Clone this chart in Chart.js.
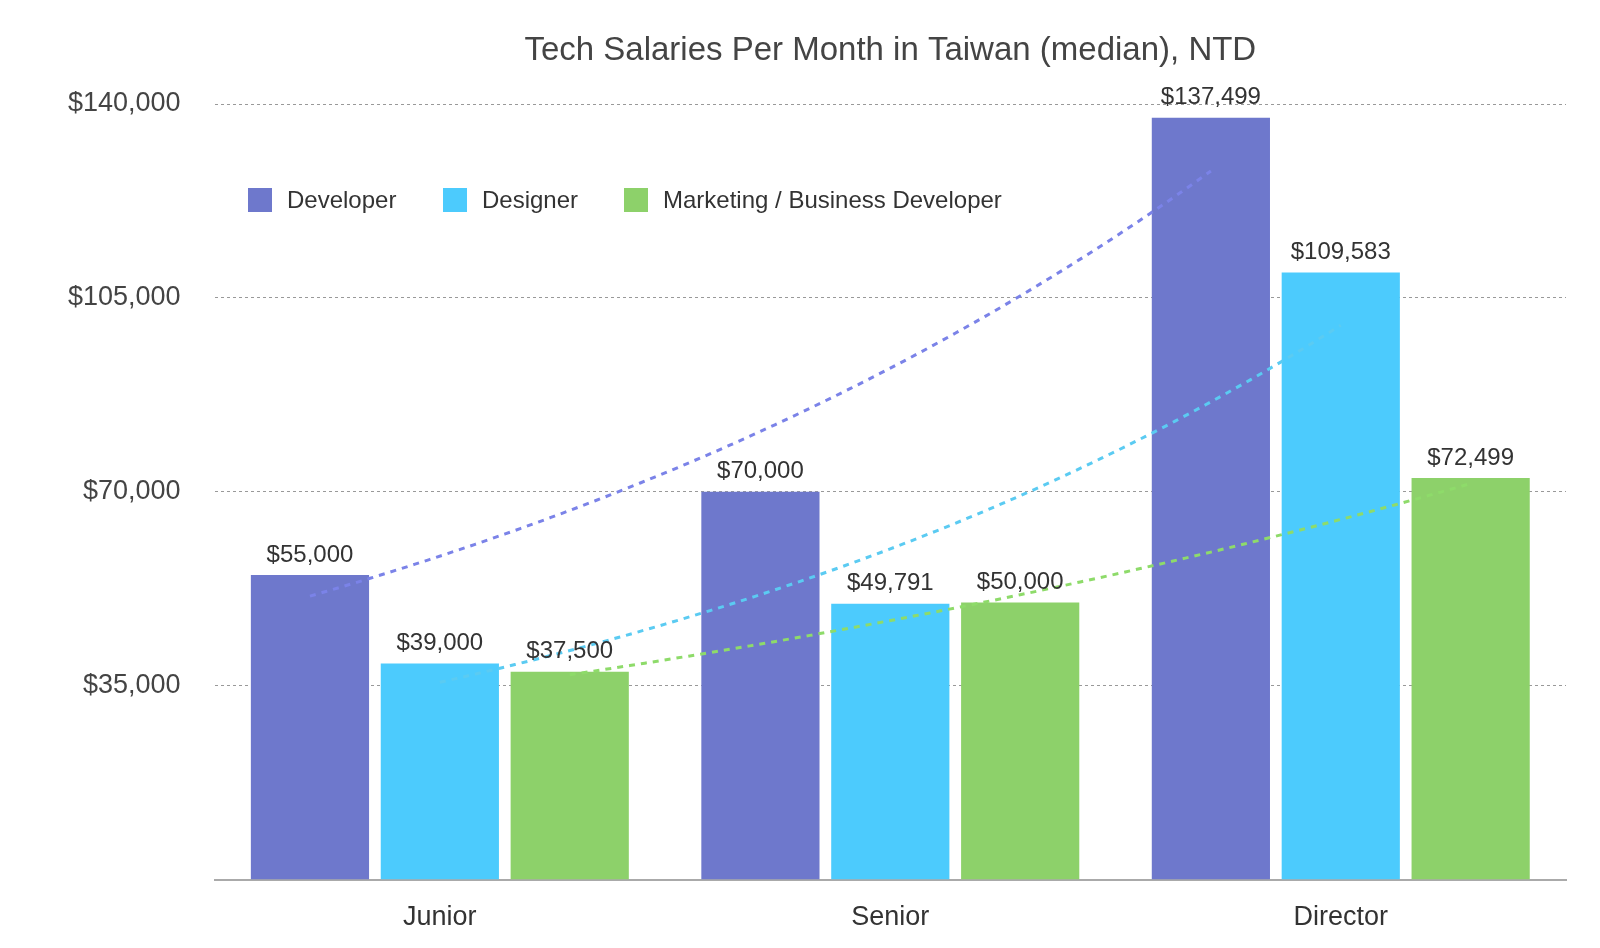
<!DOCTYPE html>
<html><head><meta charset="utf-8">
<script src="https://cdn.jsdelivr.net/npm/chart.js@4"></script>
<style>html,body{margin:0;background:#fff}#wrap{width:1600px;height:948px}</style>
</head><body><div id="wrap"><canvas id="c"></canvas></div>
<script>
const categories = ["Junior", "Senior", "Director"];
const seriesNames = ["Developer", "Designer", "Marketing / Business Developer"];
const developer = [55000, 70000, 137499];
const designer = [39000, 49791, 109583];
const marketing = [37500, 50000, 72499];
const yTicks = [35000, 70000, 105000, 140000];
const colors = ["#6E78CC", "#4CCBFD", "#8DD16A"];
const trendColors = ["#7B83E8", "#5BCBF2", "#8EDB6A"];
const titleText = "Tech Salaries Per Month in Taiwan (median), NTD";
const FONT = "'Liberation Sans', Arial, sans-serif";

const fmt = v => "$" + v.toLocaleString("en-US");

const labelPlugin = {
  id: "labels",
  afterDatasetsDraw(chart) {
    const ctx = chart.ctx;
    const y = chart.scales.y;
    ctx.save();
    // exponential trend lines
    chart.data.datasets.forEach((ds, i) => {
      const meta = chart.getDatasetMeta(i);
      const n = ds.data.length;
      const ln = ds.data.map(Math.log);
      const mx = (n - 1) / 2, my = ln.reduce((a, b) => a + b) / n;
      let sxy = 0, sxx = 0;
      ln.forEach((v, k) => { sxy += (k - mx) * (v - my); sxx += (k - mx) * (k - mx); });
      const b = sxy / sxx, a = my - b * mx;
      const x0 = meta.data[0].x, x1 = meta.data[n - 1].x;
      ctx.beginPath();
      for (let s = 0; s <= 60; s++) {
        const t = s / 60 * (n - 1);
        const px = x0 + (x1 - x0) * s / 60;
        const py = y.getPixelForValue(Math.exp(a + b * t));
        s ? ctx.lineTo(px, py) : ctx.moveTo(px, py);
      }
      ctx.strokeStyle = trendColors[i];
      ctx.lineWidth = 3;
      ctx.setLineDash([6, 6]);
      ctx.stroke();
    });
    ctx.setLineDash([]);
    ctx.font = "24px " + FONT;
    ctx.fillStyle = "#333";
    ctx.textAlign = "center";
    ctx.textBaseline = "bottom";
    chart.data.datasets.forEach((ds, i) => {
      chart.getDatasetMeta(i).data.forEach((bar, k) => {
        ctx.fillText(fmt(ds.data[k]), bar.x, bar.y - 8);
      });
    });
    ctx.restore();
  }
};

new Chart(document.getElementById("c"), {
  type: "bar",
  data: {
    labels: categories,
    datasets: [developer, designer, marketing].map((d, i) => ({
      label: seriesNames[i], data: d, backgroundColor: colors[i],
      categoryPercentage: 0.865, barPercentage: 0.91
    }))
  },
  options: {
    responsive: true, maintainAspectRatio: false, animation: false,
    layout: { padding: { top: 104, right: 34, left: 34, bottom: 0 } },
    plugins: {
      title: { display: false },
      legend: { display: false },
      tooltip: { enabled: false }
    },
    scales: {
      x: {
        grid: { display: false },
        border: { color: "#aaa", width: 2 },
        ticks: { color: "#333", font: { size: 27, family: FONT }, padding: 14 }
      },
      y: {
        min: 0, max: 140000,
        afterBuildTicks: s => { s.ticks = yTicks.map(v => ({ value: v })); },
        ticks: { color: "#444", callback: v => fmt(v), font: { size: 27, family: FONT }, padding: 34 },
        grid: { color: "#999", lineWidth: 1, drawTicks: false },
        border: { display: false, dash: [3, 3] }
      }
    }
  },
  plugins: [labelPlugin, {
    id: "legendBox",
    afterDraw(chart) {
      const ctx = chart.ctx;
      const area = chart.chartArea;
      ctx.save();
      ctx.font = "33px " + FONT;
      ctx.fillStyle = "#444";
      ctx.textAlign = "center";
      ctx.textBaseline = "middle";
      ctx.fillText(titleText, (area.left + area.right) / 2, 51);
      ctx.textAlign = "left";
      ctx.font = "24px " + FONT;
      const xs = [248, 443, 624];
      seriesNames.forEach((n, i) => {
        ctx.fillStyle = colors[i];
        ctx.fillRect(xs[i], 188, 24, 24);
        ctx.fillStyle = "#333";
        ctx.fillText(n, xs[i] + 39, 201);
      });
      ctx.restore();
    }
  }]
});
</script></body></html>
